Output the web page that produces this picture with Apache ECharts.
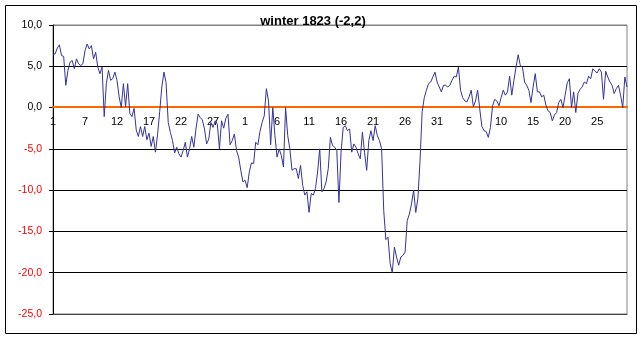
<!DOCTYPE html>
<html lang="en">
<head>
    <meta charset="UTF-8">
    <title>winter 1823</title>
    <style>
        body {
            margin: 0;
            background: #fff;
        }

        #box {
            width: 643px;
            height: 340px;
        }
    </style>
</head>
<body>
    <div id="box"></div>
    <script src="https://cdn.jsdelivr.net/npm/echarts@6/dist/echarts.min.js"></script>
    <script>
        // three readings a day, 2 Dec .. end of Feb
        var decTemp = [
            6.5, 6.5, 7.2, 7.6, 6.3, 6.2, 2.7, 4.5, 5.5, 5.7, 4.7, 5.9, 5.3, 5.1, 5.3,
            6.9, 7.7, 7.1, 7.5, 5.9, 6.7, 4.9, 4.1, 4.9, -1.1, 2.9, 4.5, 3.3, 3.5, 4.3,
            3.3, 1.3, 0.0, 2.9, 0.1, 2.9, -0.7, -1.1, -0.1, -2.7, -3.5, -2.3, -3.5, -2.3, -3.9,
            -3.1, -4.7, -3.5, -5.4, -3.3, -0.5, 2.5, 4.3, 3.0, -1.8, -3.0, -4.0, -5.5, -4.8, -5.6,
            -6.0, -5.2, -4.2, -6.0, -5.0, -3.5, -4.8, -2.6, -0.8, -1.2, -1.5, -2.6, -4.4, -3.8, -1.8,
            -2.4, -1.6, -2.0, -5.0, -1.6, -2.5, -1.3, -0.8, -4.5, -4.0, -3.2, -5.2, -6.0, -7.6, -9.0
        ];
        var janTemp = [
            -8.8, -9.7, -7.8, -6.7, -6.8, -4.2, -4.5, -2.9, -1.8, -1.0, 2.3, 0.8, -4.5, 0.0, -3.4,
            -6.0, -5.0, -5.8, -7.2, 0.0, -3.4, -5.0, -7.6, -7.4, -7.4, -8.6, -7.0, -9.4, -10.6, -10.2,
            -12.7, -10.4, -10.6, -9.8, -7.8, -5.0, -10.2, -9.8, -9.0, -7.4, -3.6, -4.6, -4.8, -5.2, -11.5,
            -5.4, -2.4, -2.2, -2.8, -2.6, -5.4, -4.4, -4.8, -5.6, -6.2, -3.0, -5.4, -7.6, -4.0, -2.8,
            -4.0, -2.2, -3.4, -4.0, -5.0, -12.5, -16.0, -15.7, -18.9, -20.0, -16.9, -18.1, -19.1, -18.1, -17.9,
            -17.5, -13.7, -12.9, -11.7, -10.0, -12.7, -11.0, -6.5, -0.5, 1.2, 2.1, 2.9, 3.1, 3.7, 4.3,
            3.1, 2.5, 1.9
        ];
        var febTemp = [
            2.7, 2.7, 2.5, 2.7, 3.3, 3.8, 3.7, 4.9, 2.1, 1.2, 0.8, 0.7, 1.3, 2.1, 0.1,
            0.8, 2.1, -0.2, -2.3, -2.8, -2.9, -3.6, -2.4, 0.2, 1.0, 0.8, 0.2, 1.2, 2.1, 1.5,
            1.9, 3.8, 1.5, 3.3, 4.9, 6.4, 5.1, 4.9, 3.1, 2.7, 2.1, 0.6, 2.5, 4.1, 1.9,
            1.9, 1.3, 1.5, 0.3, -0.4, -0.6, -1.6, -0.9, -0.6, 0.6, 1.0, 0.0, 1.5, 3.0, 3.5,
            0.0, 1.9, -0.6, 1.7, 2.2, 2.5, 3.1, 2.9, 3.8, 3.5, 4.7, 4.4, 4.2, 4.7, 4.3,
            1.0, 4.4, 3.7, 3.1, 2.7, 1.7, 2.3, 2.7, 1.5, 0.0, 3.7, 2.5
        ];
        // label shown on every 15th reading
        var tickLabels = ['1', '7', '12', '17', '22', '27', '1', '6', '11', '16', '21', '26', '31', '5', '10', '15', '20', '25'];

        var temps = decTemp.concat(janTemp, febTemp);
        var categories = [];
        for (var i = 0; i < temps.length; i++) {
            categories.push(String(i));
        }

        var chartDom = document.getElementById('box');
        var myChart = echarts.init(chartDom);
        var font = 'Liberation Sans, Arial, sans-serif';

        var option = {
            animation: false,
            title: {
                text: 'winter 1823 (-2,2)',
                left: 308,
                top: 10,
                textAlign: 'center',
                textStyle: {
                    fontFamily: font,
                    fontSize: 13,
                    fontWeight: 'bold',
                    color: '#000'
                }
            },
            // outer frame
            graphic: [{
                type: 'rect',
                shape: { x: 5.5, y: 5.5, width: 631, height: 328 },
                style: { fill: 'none', stroke: '#000', lineWidth: 1 },
                silent: true
            }],
            grid: {
                left: 53,
                right: 16,
                top: 25,
                bottom: 26,
                show: true,
                borderColor: '#808080',
                borderWidth: 1
            },
            xAxis: [{
                type: 'category',
                data: categories,
                boundaryGap: false,
                z: 3,
                // axis sits on the 0 line
                offset: -207,
                axisLine: {
                    onZero: false,
                    lineStyle: { color: '#FF6600', width: 2 }
                },
                axisTick: { show: false },
                axisLabel: {
                    interval: function (index) {
                        return index % 15 === 0;
                    },
                    formatter: function (value, index) {
                        return tickLabels[Math.round(index / 15)];
                    },
                    margin: 9,
                    color: '#000',
                    fontFamily: font,
                    fontSize: 11
                },
                splitLine: { show: false }
            }, {
                // bottom edge of the plot area
                type: 'category',
                data: categories,
                boundaryGap: false,
                position: 'bottom',
                axisLine: {
                    onZero: false,
                    lineStyle: { color: '#404040', width: 1 }
                },
                axisTick: { show: false },
                axisLabel: { show: false },
                splitLine: { show: false }
            }],
            yAxis: {
                type: 'value',
                min: -25,
                max: 10,
                interval: 5,
                axisLine: {
                    show: true,
                    lineStyle: { color: '#000', width: 1 }
                },
                axisTick: {
                    show: true,
                    length: 4,
                    lineStyle: { color: '#000' }
                },
                axisLabel: {
                    margin: 11,
                    fontFamily: font,
                    fontSize: 10.5,
                    formatter: function (v) {
                        return v.toFixed(1).replace('.', ',');
                    },
                    color: function (v) {
                        return Number(v) < 0 ? '#FF0000' : '#000';
                    }
                },
                splitLine: {
                    show: true,
                    lineStyle: {
                        color: ['#808080', '#000', '#000', '#000', '#000', '#000', '#000', '#808080'],
                        width: 1
                    }
                }
            },
            series: [{
                type: 'line',
                data: temps,
                symbol: 'none',
                lineStyle: { color: '#333399', width: 1 }
            }]
        };

        option && myChart.setOption(option);
    </script>
</body>
</html>
